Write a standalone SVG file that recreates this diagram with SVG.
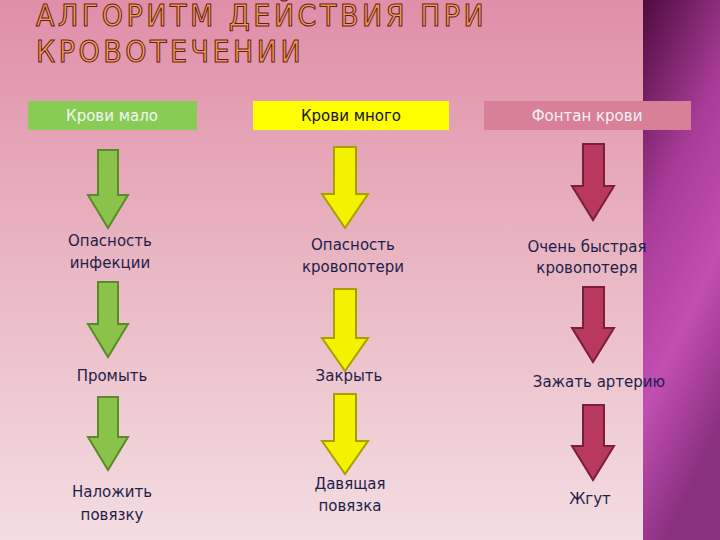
<svg xmlns="http://www.w3.org/2000/svg" width="720" height="540" viewBox="0 0 720 540">
<defs>
<linearGradient id="bg" x1="0" y1="0" x2="0" y2="1"><stop offset="0" stop-color="#df8fa8"/><stop offset="0.5" stop-color="#eab7c4"/><stop offset="1" stop-color="#f3dde2"/></linearGradient>
<linearGradient id="side" x1="0" y1="0" x2="0.3" y2="1"><stop offset="0" stop-color="#4e0c3e"/><stop offset="0.4" stop-color="#a83c98"/><stop offset="0.7" stop-color="#c24fb2"/><stop offset="1" stop-color="#8a3080"/></linearGradient>
<style>
.t{font-family:"DejaVu Sans",sans-serif;font-size:15px;fill:#1e1e4a;text-anchor:middle}
.h{font-family:"DejaVu Sans",sans-serif;font-size:15px;text-anchor:middle}
.g{fill:#8bc34a;stroke:#5a8a2a;stroke-width:2}
.y{fill:#f5f200;stroke:#a8a000;stroke-width:2}
.r{fill:#b8385e;stroke:#7a1e3c;stroke-width:2}
</style>
</defs>
<rect width="720" height="540" fill="url(#bg)"/>
<rect x="643" y="0" width="77" height="540" fill="url(#side)"/>
<g id="title" font-family="'DejaVu Sans Condensed','DejaVu Sans',sans-serif" font-size="30" fill="#f0a050" stroke="#6a1a1a" stroke-width="1" letter-spacing="3.5">
<text x="36" y="26">АЛГОРИТМ  ДЕЙСТВИЯ  ПРИ</text>
<text x="36" y="62">КРОВОТЕЧЕНИИ</text>
</g>
<g id="h1"><rect x="28" y="101" width="169" height="29" fill="#88cc55"/><text class="h" x="112" y="121" fill="#f4f4f4">Крови мало</text></g>
<g id="h2"><rect x="253" y="101" width="196" height="29" fill="#ffff00"/><text class="h" x="351" y="121" fill="#111133">Крови много</text></g>
<g id="h3"><rect x="484" y="101" width="207" height="29" fill="#d88098"/><text class="h" x="587" y="121" fill="#f6f0f4">Фонтан крови</text></g>
<g id="connectors">
<path class="g" d="M98 150H118V195H128L108 228L88 195H98Z"/>
<path class="g" d="M98 282H118V324H128L108 357L88 324H98Z"/>
<path class="g" d="M98 397H118V437H128L108 470L88 437H98Z"/>
<path class="y" d="M334 147H356V194H368L345 228L322 194H334Z"/>
<path class="y" d="M334 289H356V338H368L345 371L322 338H334Z"/>
<path class="y" d="M334 394H356V441H368L345 474L322 441H334Z"/>
<path class="r" d="M583 144H604V186H614L593 220L572 186H583Z"/>
<path class="r" d="M583 287H604V328H614L593 362L572 328H583Z"/>
<path class="r" d="M583 405H604V446H614L593 480L572 446H583Z"/>
</g>
<g id="n1"><text class="t" x="110" y="246">Опасность</text><text class="t" x="110" y="268">инфекции</text></g>
<g id="n2"><text class="t" x="112" y="381">Промыть</text></g>
<g id="n3"><text class="t" x="112" y="497">Наложить</text><text class="t" x="112" y="520">повязку</text></g>
<g id="n4"><text class="t" x="353" y="250">Опасность</text><text class="t" x="353" y="272">кровопотери</text></g>
<g id="n5"><text class="t" x="349" y="381">Закрыть</text></g>
<g id="n6"><text class="t" x="350" y="489">Давящая</text><text class="t" x="350" y="511">повязка</text></g>
<g id="n7"><text class="t" x="587" y="252">Очень быстрая</text><text class="t" x="587" y="273">кровопотеря</text></g>
<g id="n8"><text class="t" x="599" y="387">Зажать артерию</text></g>
<g id="n9"><text class="t" x="590" y="504">Жгут</text></g>
</svg>
